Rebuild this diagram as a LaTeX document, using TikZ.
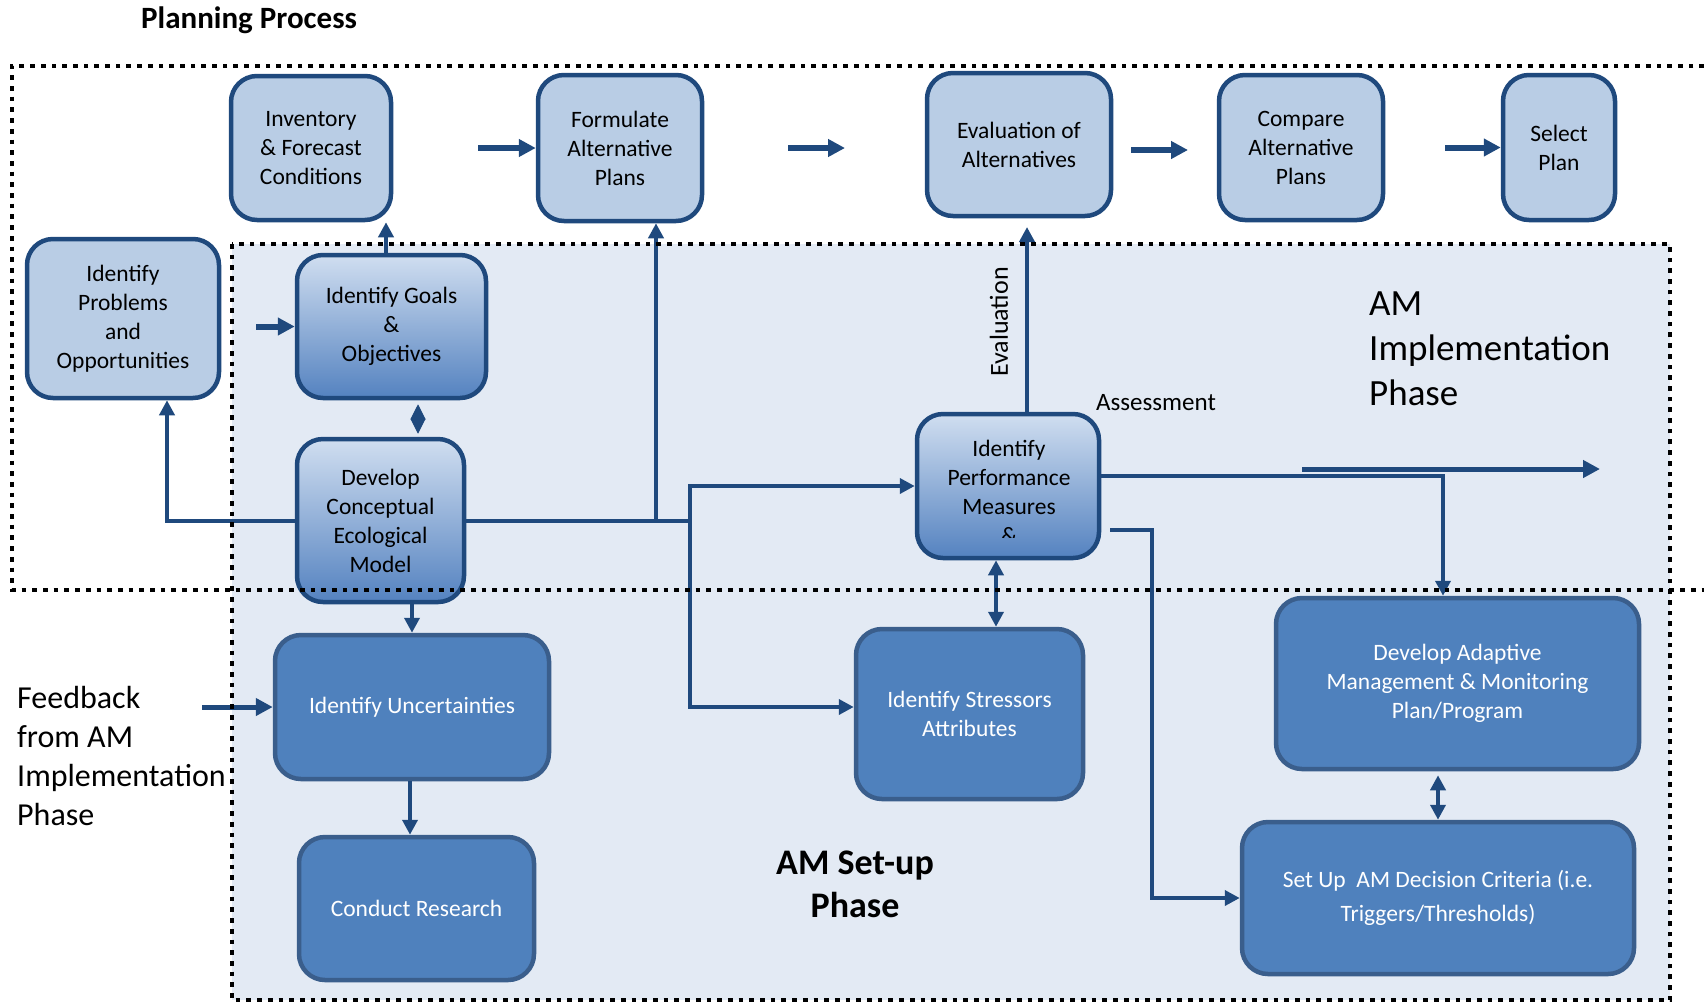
\documentclass[tikz,border=0pt]{standalone}
\usepackage{fontspec}
\setmainfont{Carlito}
\usetikzlibrary{arrows.meta}
\definecolor{bordc}{RGB}{31,73,125}
\definecolor{lightf}{RGB}{185,205,229}
\definecolor{darkf}{RGB}{79,129,189}
\definecolor{darkb}{RGB}{58,94,140}
\definecolor{amf}{RGB}{227,234,244}
\definecolor{gtop}{RGB}{208,222,240}
\definecolor{gbot}{RGB}{84,130,192}
\newcommand\bxfont{\fontsize{23.5}{29}\selectfont}
\begin{document}
\begin{tikzpicture}[x=1pt,y=-1pt,
 box/.style={draw=bordc, line width=4.5pt, rounded corners=26pt, align=center, inner sep=0pt, font=\bxfont},
 lightbox/.style={box, fill=lightf},
 gradbox/.style={box, top color=gtop, bottom color=gbot},
 darkbox/.style={box, draw=darkb, fill=darkf, text=white},
 txt/.style={inner sep=0pt},
 plain/.style={draw=bordc, line width=4pt},
 conn/.style={draw=bordc, line width=4pt, -{Triangle[length=15pt,width=15pt]}},
 dconn/.style={draw=bordc, line width=4pt, {Triangle[length=15pt,width=15pt]}-{Triangle[length=15pt,width=15pt]}},
 fat/.style={draw=bordc, line width=6pt, -{Triangle[length=17pt,width=17pt]}},
 fatb/.style={draw=bordc, line width=5pt, -{Triangle[length=17pt,width=17pt]}},
 dotb/.style={draw=black, line width=4.7pt, dash pattern=on 4.7pt off 6pt}
]
\useasboundingbox (0,0) rectangle (1704,1005);
% AM region background
\fill[amf] (232,244) rectangle (1670,1000);

% boxes
\node[lightbox, minimum width=160pt, minimum height=144pt] (inv) at (311,148) {Inventory\\\& Forecast\\Conditions};
\node[lightbox, minimum width=164pt, minimum height=146pt] (form) at (620,148) {Formulate\\Alternative\\Plans};
\node[lightbox, minimum width=184pt, minimum height=143pt] (evalalt) at (1019,144.5) {Evaluation of\\Alternatives};
\node[lightbox, minimum width=164pt, minimum height=145pt] (comp) at (1301,147.5) {Compare\\Alternative\\Plans};
\node[lightbox, minimum width=112pt, minimum height=145pt] (sel) at (1559,147.5) {Select\\Plan};
\node[lightbox, minimum width=192pt, minimum height=159pt] (prob) at (123,318.5) {Identify\\Problems\\and\\Opportunities};
\node[gradbox, minimum width=189pt, minimum height=143pt] (goals) at (391.5,326.5) {Identify Goals\\\&\\Objectives};
\node[gradbox, minimum width=167pt, minimum height=163pt] (devel) at (380.5,520.5) {Develop\\Conceptual\\Ecological\\Model};
\node[gradbox, minimum width=182pt, minimum height=144pt] (perf) at (1008,486) {};
\begin{scope}
\clip (915,412) rectangle (1101,537.5);
\node[txt, font=\bxfont, align=center] (perftxt) at (1009,492) {Identify\\Performance\\Measures\\\&};
\end{scope}
\node[darkbox, minimum width=227pt, minimum height=170pt] (stress) at (969.5,714) {Identify Stressors\\Attributes};
\node[darkbox, minimum width=363pt, minimum height=171pt] (adapt) at (1457.5,683.5) {Develop Adaptive\\Management \& Monitoring\\Plan/Program};
\node[darkbox, minimum width=392pt, minimum height=152pt, font=\fontsize{23.5}{34}\selectfont] (setup) at (1438,898) {Set Up\ \ AM Decision Criteria (i.e.\\Triggers/Thresholds)};
\node[darkbox, minimum width=274pt, minimum height=144pt] (unc) at (412,707) {Identify Uncertainties};
\node[darkbox, minimum width=235pt, minimum height=143pt] (cond) at (416.5,908.5) {Conduct Research};

% free-standing arrows of the planning row
\coordinate (a1) at (478,148);
\draw[fat] (a1) -- (form.west);
\coordinate (a2s) at (788,148); \coordinate (a2e) at (845,148);
\draw[fat] (a2s) -- (a2e);
\coordinate (a3s) at (1131,150); \coordinate (a3e) at (1188,150);
\draw[fat] (a3s) -- (a3e);
\coordinate (a4) at (1445,147.5);
\draw[fat] (a4) -- (sel.west);
\coordinate (a5) at (256,326.5);
\draw[fat] (a5) -- (goals.west);

% connectors
\draw[conn] ([xshift=-5.5pt]goals.north) -- ([xshift=-5.5pt]goals.north |- inv.south);
\draw[draw=bordc, line width=1pt, {Triangle[length=15pt,width=15pt]}-{Triangle[length=15pt,width=15pt]}, shorten <=4pt, shorten >=3pt] ([xshift=26.5pt]goals.south) -- ([xshift=37.5pt]devel.north);
\draw[conn] (devel.west) -| ([xshift=44pt]prob.south);
\coordinate (j1) at (690,520.5);
\coordinate (b1) at (656,520.5);
\draw[plain] (devel.east) -- (j1);
\draw[conn] (b1) -- (b1 |- form.south);
\draw[conn] (j1) |- (perf.west);
\draw[conn] (j1) |- ([yshift=7pt]stress.west);
\coordinate (evtip) at (1027,227);
\draw[conn] ([xshift=19pt]perf.north) -- (evtip);
\draw[conn] ([yshift=10pt]perf.east) -| ([xshift=-14.5pt]adapt.north);
\coordinate (fa1) at (1302,469); \coordinate (fa2) at (1600,469);
\draw[fatb] (fa1) -- (fa2);
\draw[conn] ([xshift=9pt,yshift=-44pt]perf.east) -- ++(42,0) |- (setup.west);
\draw[dconn] ([xshift=-12pt]perf.south) -- ([xshift=-12pt]perf.south |- stress.north);
\draw[dconn, shorten <=4pt] (setup.north |- adapt.south) -- (setup.north);
\draw[conn] (unc.north |- devel.south) -- (unc.north);
\draw[conn] ([xshift=-2pt]unc.south) -- ([xshift=-2pt]unc.south |- cond.north);
\coordinate (fb) at (202,707);
\draw[fatb] (fb) -- (unc.west);

% labels
\node[txt, font=\fontsize{26}{30}\selectfont, rotate=90] (evlab) at (999,322) {Evaluation};
\node[txt, font=\fontsize{25}{30}\selectfont] (asslab) at (1156,403) {Assessment};
\node[txt, font=\bfseries\fontsize{31}{36}\selectfont, anchor=base west] (title) at (141,28) {Planning Process};
\node[txt, font=\fontsize{37}{45}\selectfont, align=left, anchor=west] (amimp) at (1369,349) {AM\\Implementation\\Phase};
\node[txt, font=\fontsize{32}{39}\selectfont, align=left, anchor=west] (fbtxt) at (17,756) {Feedback\\from AM\\Implementation\\Phase};
\node[txt, font=\bfseries\fontsize{36}{43}\selectfont, align=center] (amset) at (855,884) {AM Set-up\\Phase};

% dotted frames
\draw[dotb] (1704,66) -- (12,66) -- (12,590) -- (1704,590);
\draw[dotb] (232,244) rectangle (1670,1000);
\end{tikzpicture}
\end{document}
